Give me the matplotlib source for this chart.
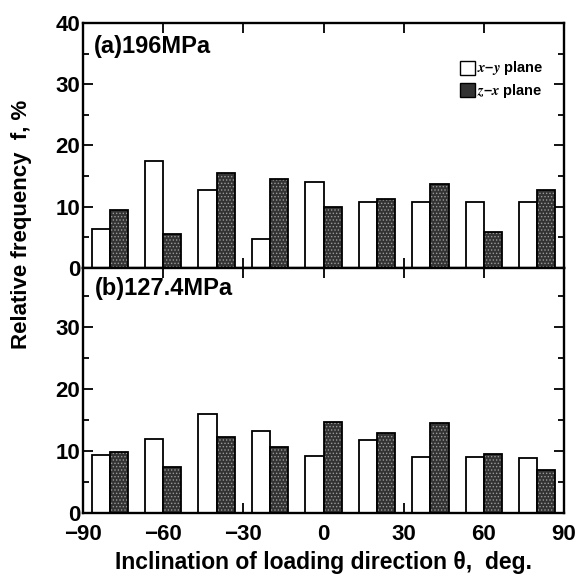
import numpy as np
import matplotlib.pyplot as plt
from matplotlib.patches import Patch

plt.rcParams['font.family'] = ['Liberation Sans', 'DejaVu Sans']
plt.rcParams['font.weight'] = 'bold'
plt.rcParams['mathtext.fontset'] = 'stix'
plt.rcParams['hatch.linewidth'] = 0.6

# data
angles = [-80, -60, -40, -20, 0, 20, 40, 60, 80]
xy_196 = [6.4, 17.5, 12.7, 4.7, 14.1, 10.8, 10.8, 10.8, 10.7]
zx_196 = [9.4, 5.5, 15.5, 14.6, 9.9, 11.3, 13.7, 5.9, 12.8]
xy_127 = [9.4, 12.0, 16.0, 13.3, 9.2, 11.7, 9.1, 9.0, 8.8]
zx_127 = [9.9, 7.4, 12.3, 10.6, 14.6, 12.9, 14.5, 9.5, 6.9]
xticks = [-90, -60, -30, 0, 30, 60, 90]
xtick_labels = ['\u221290', '\u221260', '\u221230', '0', '30', '60', '90']

W, H = 580, 579
fig = plt.figure(figsize=(5.8, 5.79), dpi=100)

def frac(x0, y0, x1, y1):
    return [x0 / W, 1 - y1 / H, (x1 - x0) / W, (y1 - y0) / H]

ax1 = fig.add_axes(frac(83, 23, 564, 268))
ax2 = fig.add_axes(frac(83, 268, 564, 513))

bw = 6.8
x = np.array(angles, dtype=float)

def draw(ax, white, dark):
    ax.bar(x - bw / 2, white, width=bw, color='white', edgecolor='black', linewidth=1.3, zorder=2)
    ax.bar(x + bw / 2, dark, width=bw, color='#333333', edgecolor='#9a9a9a', hatch='.....',
           linewidth=0, zorder=2)
    ax.bar(x + bw / 2, dark, width=bw, fill=False, edgecolor='black', linewidth=1.3, zorder=3)
    ax.set_xlim(-90, 90)
    ax.set_xticks(xticks)
    ax.set_yticks([0, 10, 20, 30, 40])
    ax.set_yticks([5, 15, 25, 35], minor=True)
    ax.tick_params(which='both', direction='in', top=True, right=True, width=1.3, labelsize=16)
    ax.tick_params(which='major', length=7, pad=2)
    ax.tick_params(which='minor', length=4)
    for s in ax.spines.values():
        s.set_linewidth(1.7)

draw(ax1, xy_196, zx_196)
draw(ax2, xy_127, zx_127)

ax1.set_ylim(0, 40)
ax1.set_xticklabels([])
ax2.set_ylim(0, 39.5)
ax2.set_yticklabels(['0', '10', '20', '30', ''])
ax2.set_xticklabels(xtick_labels)
ax2.tick_params(axis='x', pad=8)

ax1.text(0.022, 0.906, '(a)196MPa', transform=ax1.transAxes, fontsize=17,
         fontweight='bold', va='center')
ax2.text(0.025, 0.918, '(b)127.4MPa', transform=ax2.transAxes, fontsize=17,
         fontweight='bold', va='center')

handles = [Patch(facecolor='white', edgecolor='black', linewidth=1.0),
           Patch(facecolor='#333333', edgecolor='black', linewidth=1.0)]
ax1.legend(handles, ['$x$\u2013$y$ plane', '$z$\u2013$x$ plane'], loc='upper right',
           bbox_to_anchor=(0.97, 0.875), frameon=False, fontsize=10.5, handlelength=1.0,
           handleheight=1.1, handletextpad=0.15, labelspacing=0.3, borderaxespad=0)

fig.text(0.5 * (83 + 564) / W, 1 - 563 / H, 'Inclination of loading direction \u03b8,  deg.',
         ha='center', va='center', fontsize=16.5, fontweight='bold')
fig.text(22 / W, 1 - 224 / H, 'Relative frequency  f, %', rotation=90,
         ha='center', va='center', fontsize=16, fontweight='bold')

fig.savefig('out.png', dpi=100)
